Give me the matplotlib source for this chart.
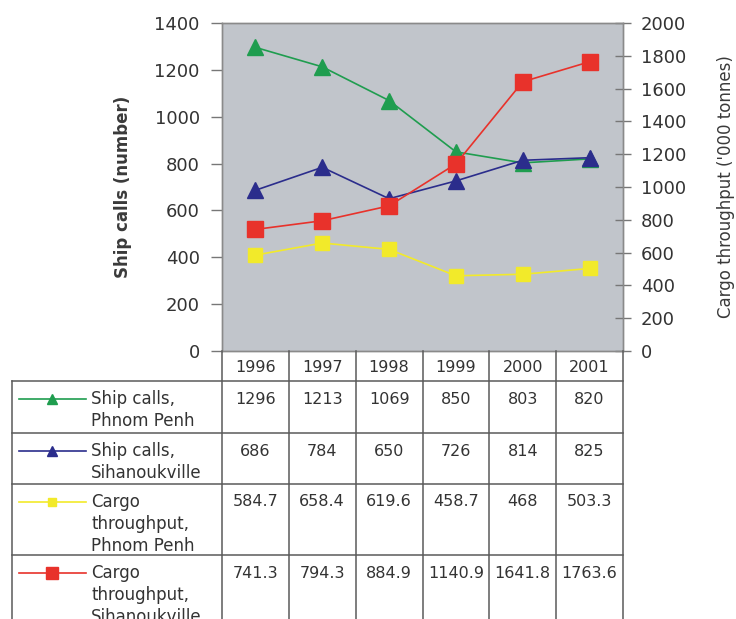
import numpy as np
import matplotlib
matplotlib.use('Agg')
import matplotlib.pyplot as plt

plt.rcParams['font.family'] = ['DejaVu Sans']

# Дані
years = ['1996', '1997', '1998', '1999', '2000', '2001']
calls_pp = [1296, 1213, 1069, 850, 803, 820]
calls_sk = [686, 784, 650, 726, 814, 825]
cargo_pp = [584.7, 658.4, 619.6, 458.7, 468, 503.3]
cargo_sk = [741.3, 794.3, 884.9, 1140.9, 1641.8, 1763.6]

cargo_pp_txt = ['584.7', '658.4', '619.6', '458.7', '468', '503.3']
cargo_sk_txt = ['741.3', '794.3', '884.9', '1140.9', '1641.8', '1763.6']

green = '#1f9d4f'
blue = '#2b2d8c'
yellow = '#f2ea2a'
red = '#e8322b'
txt = '#333333'
grid_c = '#5a5a5a'

W, H = 736, 619
fig = plt.figure(figsize=(W / 100, H / 100), dpi=100)

# Межі області графіка в пікселях
px_l, px_r, px_t, px_b = 222, 623, 23, 351
ax = fig.add_axes([px_l / W, 1 - px_b / H, (px_r - px_l) / W, (px_b - px_t) / H])
ax.set_facecolor('#c1c5cb')

x = np.arange(len(years))
ax.plot(x, calls_pp, color=green, marker='^', markersize=11, linewidth=1.2)
ax.plot(x, calls_sk, color=blue, marker='^', markersize=11, linewidth=1.2)
ax.set_xlim(-0.5, 5.5)
ax.set_ylim(0, 1400)
ax.set_yticks(range(0, 1401, 200))
ax.set_xticks([])
ax.tick_params(axis='y', direction='out', length=8, width=1, color='#777777',
               labelsize=13, labelcolor=txt, pad=8)
ax.set_ylabel('Ship calls (number)', fontsize=12, fontweight='bold', color='#3a3a3a', labelpad=16)

ax2 = ax.twinx()
ax2.plot(x, cargo_pp, color=yellow, marker='s', markersize=10, linewidth=1.2)
ax2.plot(x, cargo_sk, color=red, marker='s', markersize=11, linewidth=1.2)
ax2.set_ylim(0, 2000)
ax2.set_yticks(range(0, 2001, 200))
ax2.tick_params(axis='y', direction='inout', length=12, width=1, color='#777777',
                labelsize=13, labelcolor=txt, pad=7)
ax2.set_ylabel("Cargo throughput ('000 tonnes)", fontsize=12, color='#3a3a3a', labelpad=22)

for a in (ax, ax2):
    for s in a.spines.values():
        s.set_color('#8a8a8a')
        s.set_linewidth(1)

# Таблиця під графіком (координати в пікселях)
tb = fig.add_axes([0, 0, 1, 1])
tb.set_xlim(0, W)
tb.set_ylim(H, 0)
tb.axis('off')
tb.patch.set_alpha(0)

cols = np.linspace(px_l, px_r, len(years) + 1)
rows = [px_b, 381, 433, 484, 555, 640]
left = 12

for c in cols:
    tb.plot([c, c], [rows[0], rows[-1]], color=grid_c, linewidth=1.1)
tb.plot([left, left], [rows[1], rows[-1]], color=grid_c, linewidth=1.1)
for r in rows[1:-1]:
    tb.plot([left, px_r], [r, r], color=grid_c, linewidth=1.1)

centers = (cols[:-1] + cols[1:]) / 2
for cx, yr in zip(centers, years):
    tb.text(cx, (rows[0] + rows[1]) / 2 + 1, yr, ha='center', va='center', fontsize=11.5, color=txt)

series = [
    (['Ship calls,', 'Phnom Penh'], [str(v) for v in calls_pp], green, '^', 7),
    (['Ship calls,', 'Sihanoukville'], [str(v) for v in calls_sk], blue, '^', 7),
    (['Cargo', 'throughput,', 'Phnom Penh'], cargo_pp_txt, yellow, 's', 6),
    (['Cargo', 'throughput,', 'Sihanoukville'], cargo_sk_txt, red, 's', 9),
]

for i, (label, vals, col, mk, ms) in enumerate(series):
    top = rows[i + 1]
    ly = top + 18
    tb.plot([19, 86], [ly, ly], color=col, linewidth=1.2)
    tb.plot([52], [ly], color=col, marker=mk, markersize=ms)
    for k, line in enumerate(label):
        tb.text(91, ly + 22 * k, line, ha='left', va='center', fontsize=12, color=txt)
    for cx, v in zip(centers, vals):
        tb.text(cx, ly, v, ha='center', va='center', fontsize=11.5, color=txt)

fig.savefig('out.png', dpi=100)
